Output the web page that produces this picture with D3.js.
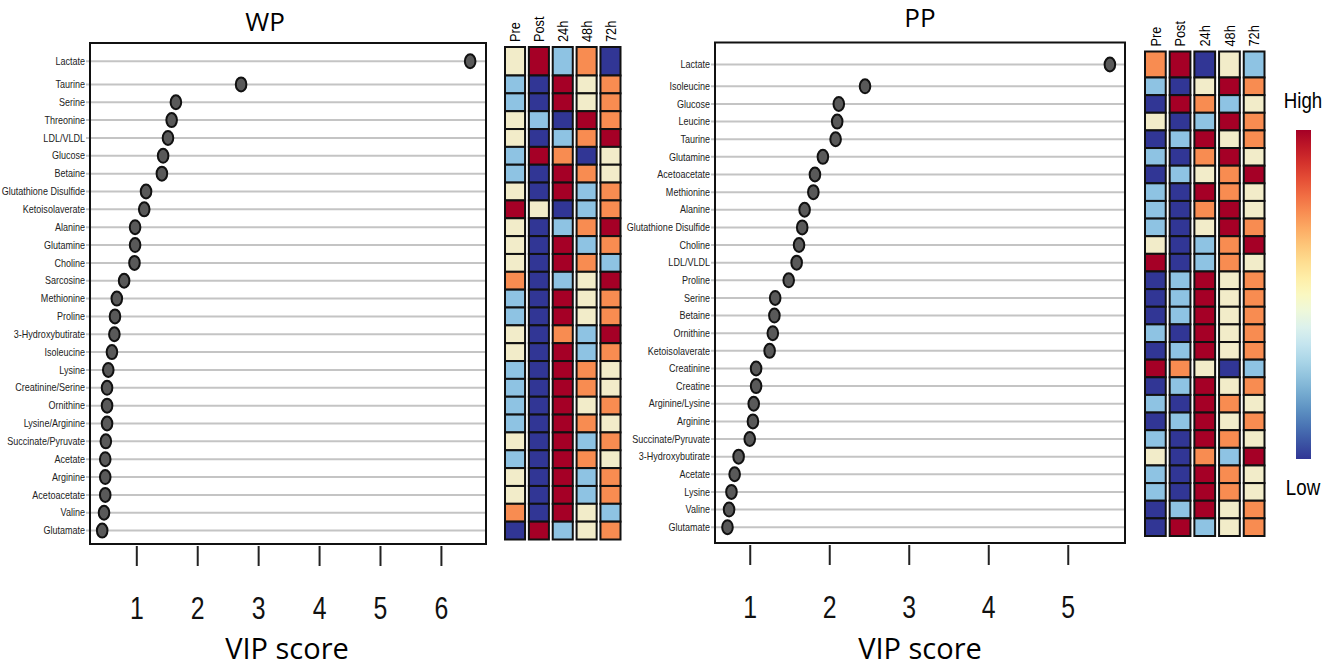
<!DOCTYPE html>
<html lang="en">
<head>
    <meta charset="UTF-8">
    <title>VIP scores WP / PP</title>
    <style>
        body { margin: 0; background: #fff; }
        .lbl { font: 10.5px "Liberation Sans", Arial, sans-serif; fill: #222; }
        .narrow { font-family: "Liberation Sans", Arial, sans-serif; }
        .title { font-family: "Open Sans", sans-serif; }
        .grid { stroke: #c4c4c4; stroke-width: 2px; }
    </style>
</head>
<body>
    <div id="chart"></div>
    <script src="https://cdnjs.cloudflare.com/ajax/libs/d3/7.8.5/d3.min.js"></script>
    <script>
        // time points of the heat map columns
        const timepoints = ["Pre", "Post", "24h", "48h", "72h"];
        // heat levels: 1 = low (dark blue) ... 5 = high (dark red)
        const levelColors = ["#313695", "#8ec3e3", "#f2ecc9", "#f88c51", "#a50026"];

        const wpNames = ["Lactate", "Taurine", "Serine", "Threonine", "LDL/VLDL", "Glucose", "Betaine",
            "Glutathione Disulfide", "Ketoisolaverate", "Alanine", "Glutamine", "Choline", "Sarcosine",
            "Methionine", "Proline", "3-Hydroxybutirate", "Isoleucine", "Lysine", "Creatinine/Serine",
            "Ornithine", "Lysine/Arginine", "Succinate/Pyruvate", "Acetate", "Arginine", "Acetoacetate",
            "Valine", "Glutamate"];
        const wpVip = [6.48, 2.72, 1.65, 1.58, 1.52, 1.44, 1.42, 1.16, 1.13, 0.98, 0.98, 0.97, 0.80,
            0.68, 0.65, 0.64, 0.60, 0.54, 0.52, 0.52, 0.52, 0.50, 0.49, 0.49, 0.49, 0.47, 0.44];
        const wpHeat = [
            [3, 5, 2, 4, 1], [2, 1, 5, 3, 4], [2, 1, 5, 3, 4], [3, 2, 1, 5, 4], [3, 1, 2, 4, 5],
            [2, 5, 4, 1, 3], [2, 1, 5, 4, 3], [3, 1, 5, 2, 4], [5, 3, 1, 2, 4], [3, 1, 2, 4, 5],
            [3, 1, 5, 2, 4], [3, 1, 5, 4, 2], [4, 1, 2, 3, 5], [2, 1, 5, 3, 4], [2, 1, 5, 3, 4],
            [3, 1, 4, 2, 5], [3, 1, 5, 2, 4], [2, 1, 5, 4, 3], [2, 1, 5, 4, 3], [2, 1, 5, 3, 4],
            [2, 1, 5, 4, 3], [3, 1, 5, 2, 4], [2, 1, 5, 4, 3], [3, 1, 5, 2, 4], [3, 1, 5, 2, 4],
            [4, 1, 5, 3, 2], [1, 5, 2, 3, 4]
        ];
        const wpTicks = [1, 2, 3, 4, 5, 6];

        const ppNames = ["Lactate", "Isoleucine", "Glucose", "Leucine", "Taurine", "Glutamine",
            "Acetoacetate", "Methionine", "Alanine", "Glutathione Disulfide", "Choline", "LDL/VLDL",
            "Proline", "Serine", "Betaine", "Ornithine", "Ketoisolaverate", "Creatinine", "Creatine",
            "Arginine/Lysine", "Arginine", "Succinate/Pyruvate", "3-Hydroxybutirate", "Acetate",
            "Lysine", "Valine", "Glutamate"];
        const ppVip = [5.53, 2.45, 2.12, 2.10, 2.08, 1.92, 1.82, 1.80, 1.69, 1.66, 1.62, 1.59, 1.49,
            1.32, 1.31, 1.29, 1.25, 1.08, 1.08, 1.05, 1.04, 1.00, 0.86, 0.81, 0.77, 0.74, 0.72];
        const ppHeat = [
            [4, 5, 1, 3, 2], [2, 1, 3, 5, 4], [1, 5, 4, 2, 3], [3, 1, 2, 5, 4], [1, 2, 5, 3, 4],
            [2, 1, 4, 5, 3], [1, 2, 3, 4, 5], [2, 1, 5, 4, 3], [2, 1, 4, 5, 3], [2, 1, 3, 5, 4],
            [3, 1, 2, 4, 5], [5, 1, 2, 4, 3], [1, 2, 5, 3, 4], [1, 2, 5, 3, 4], [1, 2, 5, 3, 4],
            [2, 1, 5, 3, 4], [1, 2, 5, 3, 4], [5, 4, 3, 1, 2], [1, 2, 5, 3, 4], [2, 1, 5, 4, 3],
            [1, 2, 5, 3, 4], [2, 1, 5, 4, 3], [3, 1, 4, 2, 5], [2, 1, 5, 4, 3], [2, 1, 5, 4, 3],
            [1, 2, 5, 3, 4], [1, 5, 2, 3, 4]
        ];
        const ppTicks = [1, 2, 3, 4, 5];

        const W = 1325, H = 672;
        const svg = d3.select("#chart").append("svg")
            .attr("width", W)
            .attr("height", H);

        function drawPanel(p) {
            const n = p.names.length;
            const g = svg.append("g");

            // rows: the first (Lactate) band is taller than the rest
            const edge = d3.scaleLinear().domain([1, n]).range([p.rowSplit, p.rowBottom]);
            const rowEdge = i => i === 0 ? p.rowTop : edge(i);
            const rowMid = i => (rowEdge(i) + rowEdge(i + 1)) / 2;

            const x = d3.scaleLinear().domain(p.xDomain).range([p.boxLeft, p.boxRight]);

            // title
            g.append("text")
                .attr("class", "title")
                .attr("x", p.titleX)
                .attr("y", p.titleY)
                .attr("text-anchor", "middle")
                .style("font-size", "26px")
                .text(p.title);

            // grid lines + labels
            g.selectAll(".grid")
                .data(p.names)
                .enter().append("line")
                .attr("class", "grid")
                .attr("x1", p.boxLeft - 4)
                .attr("x2", p.boxRight)
                .attr("y1", (d, i) => rowMid(i))
                .attr("y2", (d, i) => rowMid(i));

            g.selectAll(".lbl")
                .data(p.names)
                .enter().append("text")
                .attr("class", "lbl")
                .attr("transform", (d, i) => `translate(${p.boxLeft - 5},${rowMid(i)}) scale(0.86,1)`)
                .attr("dy", "0.35em")
                .attr("text-anchor", "end")
                .text(d => d);

            // dots
            g.selectAll(".dot")
                .data(p.vip)
                .enter().append("ellipse")
                .attr("class", "dot")
                .attr("cx", d => x(d))
                .attr("cy", (d, i) => rowMid(i))
                .attr("rx", 5.3)
                .attr("ry", 7)
                .attr("fill", "#595959")
                .attr("stroke", "#111")
                .attr("stroke-width", 2);

            // box
            g.append("rect")
                .attr("x", p.boxLeft)
                .attr("y", p.boxTop)
                .attr("width", p.boxRight - p.boxLeft)
                .attr("height", p.boxBottom - p.boxTop)
                .attr("fill", "none")
                .attr("stroke", "#111")
                .attr("stroke-width", 2);

            // x axis
            const axis = g.append("g")
                .attr("transform", `translate(0,${p.boxBottom + 2})`)
                .call(d3.axisBottom(x).tickValues(p.ticks).tickSize(20).tickFormat(d3.format("d")));
            axis.select(".domain").remove();
            axis.selectAll(".tick line").attr("stroke", "#222").attr("stroke-width", 2);
            axis.selectAll(".tick text")
                .attr("class", "narrow")
                .attr("y", 0)
                .attr("dy", 0)
                .attr("transform", "translate(0,73) scale(0.8,1)")
                .style("font-size", "31px")
                .attr("fill", "#111");

            g.append("text")
                .attr("class", "title")
                .attr("x", p.xLabelX)
                .attr("y", 659)
                .attr("text-anchor", "middle")
                .style("font-size", "29px")
                .text("VIP score");

            // heat map
            const cx = d3.scaleBand().domain(timepoints)
                .range([p.heatLeft, p.heatLeft + p.heatStep * timepoints.length])
                .paddingInner(0.16);
            const color = d3.scaleOrdinal().domain([1, 2, 3, 4, 5]).range(levelColors);

            g.selectAll(".hdr")
                .data(timepoints)
                .enter().append("text")
                .attr("class", "narrow")
                .attr("transform", d => `translate(${cx(d) + cx.bandwidth() / 2},${p.rowTop - 5}) rotate(-90) scale(0.85,1)`)
                .attr("dy", "0.35em")
                .style("font-size", "15px")
                .text(d => d);

            const rows = g.selectAll(".hrow")
                .data(p.heat)
                .enter().append("g");

            rows.selectAll("rect")
                .data((d, i) => d.map((v, j) => ({ v: v, t: timepoints[j], i: i })))
                .enter().append("rect")
                .attr("x", d => cx(d.t))
                .attr("y", d => rowEdge(d.i))
                .attr("width", cx.bandwidth())
                .attr("height", d => rowEdge(d.i + 1) - rowEdge(d.i))
                .attr("fill", d => color(d.v))
                .attr("stroke", "#111")
                .attr("stroke-width", 2);
        }

        drawPanel({
            title: "WP", titleX: 265, titleY: 31, names: wpNames, vip: wpVip, heat: wpHeat, ticks: wpTicks,
            xDomain: [0.24, 6.74], boxLeft: 90, boxRight: 486, boxTop: 43, boxBottom: 544,
            rowTop: 47, rowSplit: 75.5, rowBottom: 539.5, xLabelX: 287,
            heatLeft: 505, heatStep: 23.1
        });

        drawPanel({
            title: "PP", titleX: 920, titleY: 27, names: ppNames, vip: ppVip, heat: ppHeat, ticks: ppTicks,
            xDomain: [0.563, 5.72], boxLeft: 715, boxRight: 1125, boxTop: 42.5, boxBottom: 543,
            rowTop: 51.5, rowSplit: 77.5, rowBottom: 536, xLabelX: 920,
            heatLeft: 1145, heatStep: 23.9
        });

        // colour legend
        const legendScale = d3.scaleLinear().domain([0, 1]).range([459, 130]);
        const defs = svg.append("defs");
        const grad = defs.append("linearGradient")
            .attr("id", "legendGrad")
            .attr("x1", 0).attr("y1", 1).attr("x2", 0).attr("y2", 0);
        d3.range(0, 1.0001, 0.05).forEach(t => {
            grad.append("stop")
                .attr("offset", t)
                .attr("stop-color", d3.interpolateRdYlBu(1 - t));
        });
        svg.append("rect")
            .attr("x", 1296)
            .attr("y", legendScale(1))
            .attr("width", 15)
            .attr("height", legendScale(0) - legendScale(1))
            .attr("fill", "url(#legendGrad)");
        svg.append("text")
            .attr("class", "narrow")
            .attr("transform", "translate(1303,108) scale(0.85,1)")
            .attr("text-anchor", "middle")
            .style("font-size", "22px")
            .text("High");
        svg.append("text")
            .attr("class", "narrow")
            .attr("transform", "translate(1303,495) scale(0.85,1)")
            .attr("text-anchor", "middle")
            .style("font-size", "22px")
            .text("Low");
    </script>
</body>
</html>
